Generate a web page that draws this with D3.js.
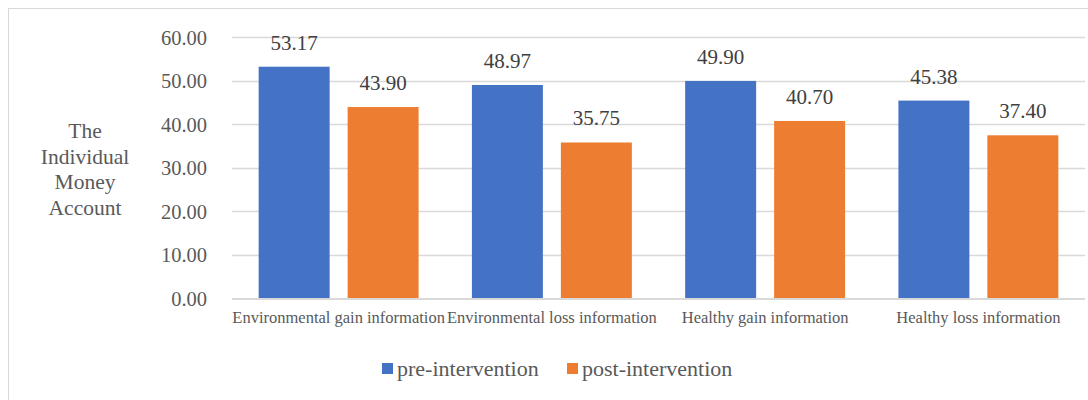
<!DOCTYPE html>
<html>
<head>
<meta charset="utf-8">
<script src="https://cdn.jsdelivr.net/npm/d3@7"></script>
<style>
  html, body { margin: 0; padding: 0; background: #fff; }
  svg { display: block; }
</style>
</head>
<body>
<svg id="chart" width="1088" height="400" font-family="'Liberation Serif', 'Times New Roman', serif"></svg>
<script>
// Mean individual money account, by information condition
const categories = [
  "Environmental gain information",
  "Environmental loss information",
  "Healthy gain information",
  "Healthy loss information"
];
const seriesNames = ["pre-intervention", "post-intervention"];
const preValues = [53.17, 48.97, 49.90, 45.38];
const postValues = [43.90, 35.75, 40.70, 37.40];
const yTicks = [0, 10, 20, 30, 40, 50, 60];
const yTitleLines = ["The", "Individual", "Money", "Account"];
const colors = ["#4472C4", "#ED7D31"];

const seriesValues = [preValues, postValues];

const svg = d3.select("#chart");

// outer chart frame
svg.append("rect")
  .attr("x", 8.5).attr("y", 8.5)
  .attr("width", 1100).attr("height", 420)
  .attr("fill", "none").attr("stroke", "#d9d9d9").attr("stroke-width", 1);

const plot = { left: 232, right: 1085, top: 37, bottom: 298 };

const y = d3.scaleLinear().domain([0, 60]).range([plot.bottom, plot.top]);
const x0 = d3.scaleBand().domain(categories)
  .range([plot.left, plot.right]).paddingInner(0.25).paddingOuter(0.125);
const x1 = d3.scaleBand().domain(seriesNames)
  .range([0, x0.bandwidth()]).paddingInner(0.2022);

// gridlines
svg.append("g").selectAll("line")
  .data(yTicks.filter(t => t !== 0))
  .join("line")
  .attr("x1", plot.left).attr("x2", plot.right)
  .attr("y1", d => Math.round(y(d)) + 0.5).attr("y2", d => Math.round(y(d)) + 0.5)
  .attr("stroke", "#d9d9d9").attr("stroke-width", 1.3);

// y tick labels
svg.append("g").selectAll("text")
  .data(yTicks)
  .join("text")
  .attr("x", 207).attr("y", d => y(d) + 7.5)
  .attr("text-anchor", "end")
  .attr("font-size", 20.5)
  .attr("fill", "#595959")
  .text(d => d3.format(".2f")(d));

// y axis title
svg.append("text")
  .attr("text-anchor", "middle")
  .attr("font-size", 21.5)
  .attr("fill", "#595959")
  .selectAll("tspan")
  .data(yTitleLines)
  .join("tspan")
  .attr("x", 85)
  .attr("y", (d, i) => 138 + i * 25.7)
  .text(d => d);

// bars
const groups = svg.append("g").selectAll("g")
  .data(categories)
  .join("g")
  .attr("transform", d => `translate(${x0(d)},0)`);

groups.selectAll("rect")
  .data((c, ci) => seriesNames.map((s, si) => ({ s, si, v: seriesValues[si][ci] })))
  .join("rect")
  .attr("x", d => x1(d.s))
  .attr("y", d => y(d.v))
  .attr("width", x1.bandwidth())
  .attr("height", d => y(0) - y(d.v))
  .attr("fill", d => colors[d.si]);

// value labels
groups.selectAll("text")
  .data((c, ci) => seriesNames.map((s, si) => ({ s, si, v: seriesValues[si][ci] })))
  .join("text")
  .attr("x", d => x1(d.s) + x1.bandwidth() / 2)
  .attr("y", d => y(d.v) - 17)
  .attr("text-anchor", "middle")
  .attr("font-size", 21)
  .attr("fill", "#404040")
  .text(d => d3.format(".2f")(d.v));

// baseline
svg.append("line")
  .attr("x1", plot.left).attr("x2", plot.right)
  .attr("y1", y(0) + 1).attr("y2", y(0) + 1)
  .attr("stroke", "#d9d9d9").attr("stroke-width", 2);

// category labels
svg.append("g").selectAll("text")
  .data(categories)
  .join("text")
  .attr("x", d => x0(d) + x0.bandwidth() / 2)
  .attr("y", 323)
  .attr("text-anchor", "middle")
  .attr("font-size", 16.5)
  .attr("fill", "#595959")
  .text(d => d);

// legend
const legendX = [382, 567];
const legend = svg.append("g").selectAll("g")
  .data(seriesNames)
  .join("g")
  .attr("transform", (d, i) => `translate(${legendX[i]},0)`);
legend.append("rect")
  .attr("x", 0).attr("y", 363)
  .attr("width", 11).attr("height", 11)
  .attr("fill", (d, i) => colors[i]);
legend.append("text")
  .attr("x", 15).attr("y", 376)
  .attr("font-size", 22)
  .attr("fill", "#595959")
  .text(d => d);
</script>
</body>
</html>
